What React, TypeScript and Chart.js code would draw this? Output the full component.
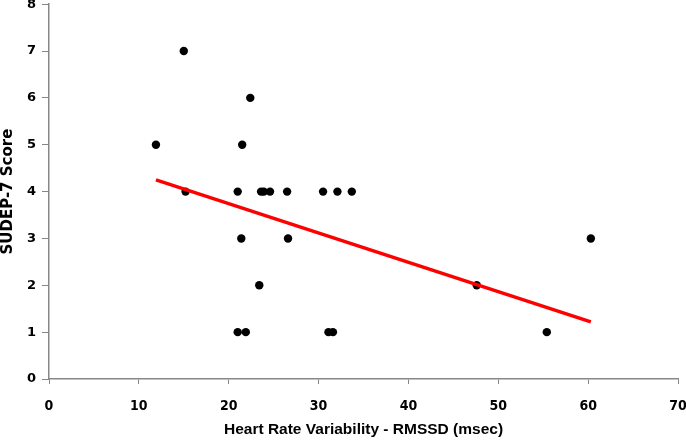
import { useEffect, useRef } from "react"
import { Chart, registerables } from "chart.js"

Chart.register(...registerables)

// Heart rate variability (RMSSD, msec) vs SUDEP-7 score, one value per patient
const hrvRmssd = [
  15.0, 22.4, 11.9, 21.5, 15.2, 21.0, 23.6, 23.9, 24.6, 26.5, 30.5, 32.1, 33.7,
  21.4, 26.6, 23.4, 21.0, 21.9, 31.1, 31.6, 60.3, 47.6, 55.4,
]
const sudepScore = [7, 6, 5, 5, 4, 4, 4, 4, 4, 4, 4, 4, 4, 3, 3, 2, 1, 1, 1, 1, 3, 2, 1]

// linear trend line end points
const trendX = [11.9, 60.3]
const trendY = [4.25, 1.22]

const xTicks = [0, 10, 20, 30, 40, 50, 60, 70]
const yTicks = [0, 1, 2, 3, 4, 5, 6, 7, 8]

const axisGray = "#878787"

export default function App() {
  const canvasRef = useRef<HTMLCanvasElement>(null)
  const chartRef = useRef<Chart | null>(null)

  useEffect(() => {
    if (!canvasRef.current) return
    if (chartRef.current) chartRef.current.destroy()

    const points = hrvRmssd.map((x, i) => ({ x, y: sudepScore[i] }))
    const trend = trendX.map((x, i) => ({ x, y: trendY[i] }))

    chartRef.current = new Chart(canvasRef.current, {
      type: "scatter",
      data: {
        datasets: [
          {
            type: "line",
            label: "Trend",
            data: trend,
            borderColor: "#ff0000",
            borderWidth: 3.5,
            pointRadius: 0,
            fill: false,
            order: 0,
          },
          {
            label: "Patients",
            data: points,
            backgroundColor: "#000000",
            borderColor: "#000000",
            pointRadius: 4.2,
            borderWidth: 0,
            order: 1,
          },
        ],
      },
      options: {
        responsive: true,
        maintainAspectRatio: false,
        animation: false,
        layout: { padding: { left: 0, top: 4, right: 8, bottom: 0 } },
        plugins: {
          legend: { display: false },
          tooltip: { enabled: false },
        },
        scales: {
          x: {
            type: "linear",
            min: 0,
            max: 70,
            afterBuildTicks: (axis) => {
              axis.ticks = xTicks.map((v) => ({ value: v }))
            },
            afterFit: (axis) => {
              axis.height = 64
              axis.paddingLeft = 0
              axis.paddingRight = 0
            },
            grid: {
              drawOnChartArea: false,
              drawTicks: true,
              tickLength: 5,
              color: axisGray,
            },
            border: { display: true, color: axisGray, width: 1.5 },
            ticks: {
              padding: 14,
              color: "#000",
              font: { family: "'DejaVu Sans Condensed', 'Liberation Sans', sans-serif", size: 14, weight: "bold" },
            },
            title: {
              display: true,
              text: "Heart Rate Variability - RMSSD (msec)",
              color: "#000",
              padding: { top: 0, bottom: 6 },
              font: { family: "'Liberation Sans', Arial, sans-serif", size: 15.5, weight: "bold", lineHeight: 1 },
            },
          },
          y: {
            type: "linear",
            min: 0,
            max: 8,
            afterBuildTicks: (axis) => {
              axis.ticks = yTicks.map((v) => ({ value: v }))
            },
            afterFit: (axis) => {
              axis.width = 49
              axis.paddingTop = 0
              axis.paddingBottom = 0
            },
            grid: {
              drawOnChartArea: false,
              drawTicks: true,
              tickLength: 7,
              color: axisGray,
            },
            border: { display: true, color: axisGray, width: 1.5 },
            ticks: {
              padding: 6,
              color: "#000",
              font: { family: "'DejaVu Sans', Verdana, sans-serif", size: 13, weight: "bold" },
            },
            title: {
              display: true,
              text: "SUDEP-7 Score",
              color: "#000",
              padding: { top: 0, bottom: 0 },
              font: { family: "'DejaVu Sans', Verdana, sans-serif", size: 15, weight: "bold", lineHeight: 1.1 },
            },
          },
        },
      },
    })

    return () => {
      if (chartRef.current) {
        chartRef.current.destroy()
        chartRef.current = null
      }
    }
  }, [])

  return (
    <div style={{ position: "fixed", left: 0, top: 0, width: 686, height: 443, background: "#fff" }}>
      <canvas ref={canvasRef} />
    </div>
  )
}
